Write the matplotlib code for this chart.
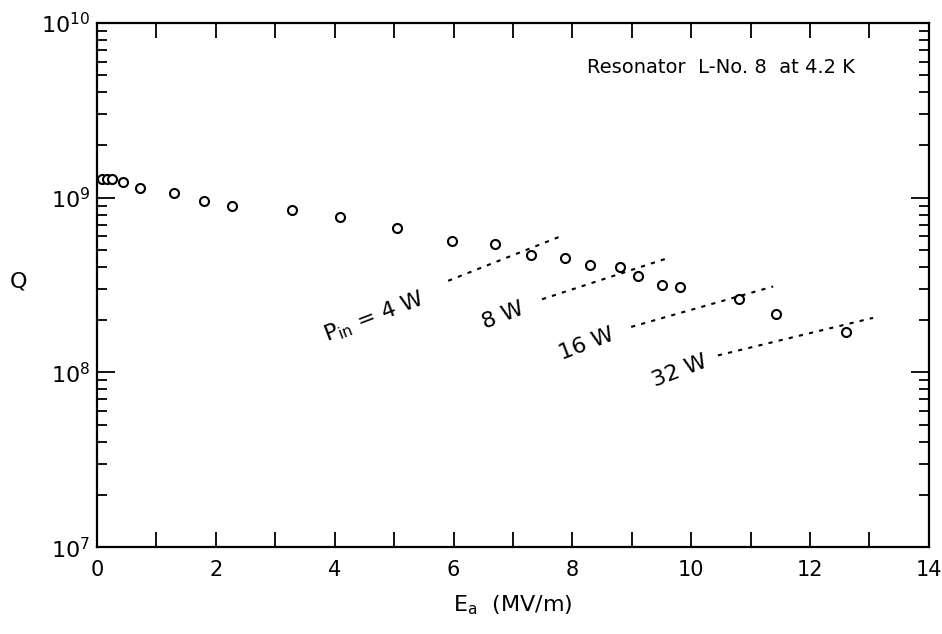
import numpy as np
import matplotlib
matplotlib.use('Agg')
import matplotlib.pyplot as plt
from matplotlib.ticker import LogLocator, FixedLocator, NullFormatter

# measured Q vs accelerating field
E_a = [0.08, 0.16, 0.25, 0.44, 0.72, 1.30, 1.80, 2.27, 3.28, 4.09, 5.05, 5.98,
       6.70, 7.31, 7.88, 8.30, 8.80, 9.11, 9.51, 9.81, 10.81, 11.43, 12.61]
Q = [1.28e9, 1.28e9, 1.27e9, 1.23e9, 1.14e9, 1.06e9, 0.955e9, 0.895e9, 0.85e9,
     0.77e9, 0.667e9, 0.564e9, 0.543e9, 0.471e9, 0.453e9, 0.414e9, 0.40e9,
     0.356e9, 0.316e9, 0.308e9, 0.264e9, 0.217e9, 0.170e9]

# constant input power lines (end points)
p_labels = [r'P$_{\rm in}$ = 4 W', '8 W', '16 W', '32 W']
p_E = [(5.91, 7.79), (7.49, 9.61), (8.99, 11.38), (10.45, 13.06)]
p_Q = [(3.34e8, 5.98e8), (2.62e8, 4.51e8), (1.82e8, 3.10e8), (1.25e8, 2.05e8)]
p_text_pos = [(4.66, 2.07e8), (6.83, 2.1e8), (8.24, 1.45e8), (9.81, 1.02e8)]

fig = plt.figure(figsize=(9.42, 6.34), dpi=100)
ax = fig.add_axes([0.103, 0.137, 0.883, 0.827])

ax.plot(E_a, Q, 'o', mfc='white', mec='black', ms=6.5, mew=1.5, ls='none')

for e, q in zip(p_E, p_Q):
    ax.plot(e, q, color='black', lw=1.5, ls=(0, (2, 3)))

for lab, (x, y) in zip(p_labels, p_text_pos):
    ax.text(x, y, lab, rotation=21, ha='center', va='center', fontsize=16)

ax.set_yscale('log')
ax.set_xlim(0, 14)
ax.set_ylim(1e7, 1e10)

ax.xaxis.set_major_locator(FixedLocator(np.arange(0, 15, 2)))
ax.xaxis.set_minor_locator(FixedLocator(np.arange(1, 14, 2)))
ax.yaxis.set_major_locator(LogLocator(base=10, numticks=10))
ax.yaxis.set_minor_locator(LogLocator(base=10, subs=np.arange(2, 10), numticks=20))
ax.yaxis.set_minor_formatter(NullFormatter())

ax.tick_params(axis='x', which='both', direction='in', length=11, width=1.3,
               top=True, labelsize=15, pad=9)
ax.tick_params(axis='y', which='major', direction='in', length=13, width=1.3,
               right=True, labelsize=16, pad=5)
ax.tick_params(axis='y', which='minor', direction='in', length=7, width=1.3,
               right=True)
for s in ax.spines.values():
    s.set_linewidth(1.6)

ax.set_xlabel(r'E$_{\rm a}$  (MV/m)', fontsize=16, labelpad=10)
ax.set_ylabel('Q', rotation=0, fontsize=16)
ax.yaxis.set_label_coords(-0.095, 0.487)

ax.text(0.589, 0.914, 'Resonator  L-No. 8  at 4.2 K', transform=ax.transAxes,
        ha='left', va='center', fontsize=14)

fig.savefig('out.png', dpi=100)
